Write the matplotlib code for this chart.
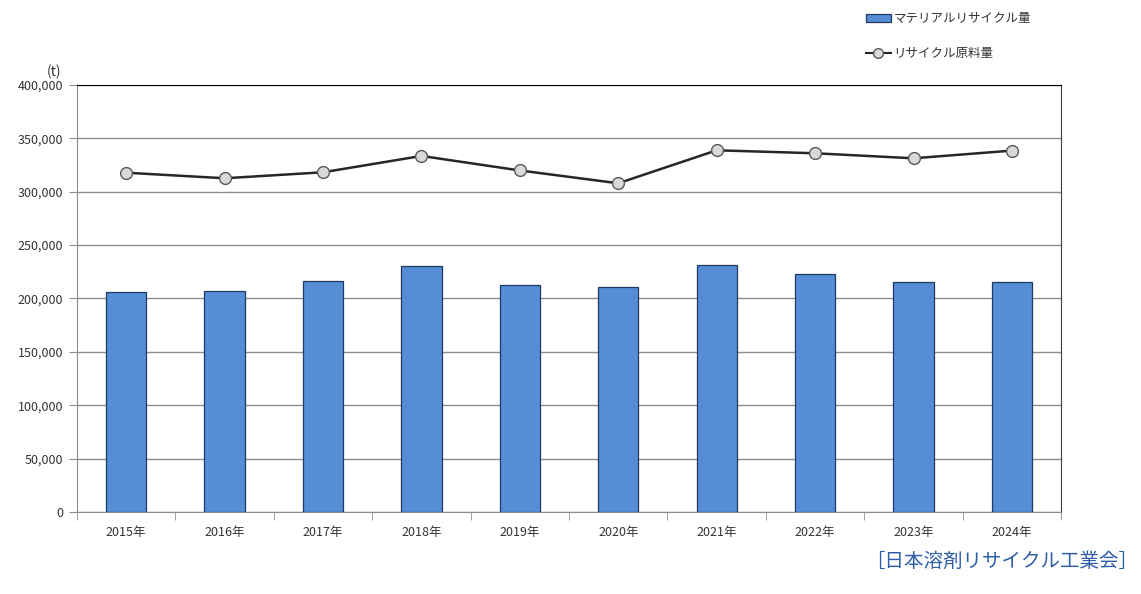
import numpy as np
import matplotlib.pyplot as plt
from matplotlib.lines import Line2D
from matplotlib.patches import Patch

plt.rcParams['font.family'] = ['Noto Sans CJK JP', 'DejaVu Sans']

years = ["2015年", "2016年", "2017年", "2018年", "2019年",
         "2020年", "2021年", "2022年", "2023年", "2024年"]
material_recycle = [206000, 207000, 216500, 230500, 212500,
                    210800, 231500, 223000, 215500, 215500]
recycle_raw = [317800, 312600, 318200, 333500, 319900,
               307900, 338800, 336000, 331300, 338500]

fig = plt.figure(figsize=(11.41, 5.94), dpi=100)
ax = fig.add_axes([0.0675, 0.138, 0.8625, 0.719])

x = np.arange(len(years))
ax.bar(x, material_recycle, width=0.41, color="#558ed5",
       edgecolor="#1f3864", linewidth=0.9, zorder=3)
ax.plot(x, recycle_raw, color="#262626", linewidth=1.8, marker="o",
        markersize=8.5, markerfacecolor="#d9d9d9", markeredgecolor="#595959",
        markeredgewidth=1.0, zorder=4)

ax.set_xlim(-0.5, len(years) - 0.5)
ax.set_ylim(0, 400000)
ax.set_yticks(np.arange(0, 400001, 50000))
ax.set_yticklabels([f"{v:,}" for v in range(0, 400001, 50000)], fontsize=9,
                   color="#333333")
ax.yaxis.grid(True, color="#8c8c8c", linewidth=1.0, zorder=0)

ax.set_xticks(x)
ax.set_xticklabels(years, fontsize=9, color="#333333")
ax.tick_params(axis="x", length=0, pad=10)
ax.set_xticks(np.arange(-0.5, len(years), 1), minor=True)
ax.tick_params(axis="x", which="minor", length=6, color="#8c8c8c")
ax.tick_params(axis="y", length=6, color="#8c8c8c", pad=4)

for s in ["left", "bottom"]:
    ax.spines[s].set_color("#8c8c8c")
ax.spines["top"].set_color("#000000")
ax.spines["right"].set_color("#404040")

fig.text(0.041, 0.872, "(t)", fontsize=10, color="#333333")

handles = [Patch(facecolor="#558ed5", edgecolor="#1f3864", linewidth=0.9),
           Line2D([], [], color="#262626", linewidth=1.5, marker="o",
                  markersize=7, markerfacecolor="#d9d9d9",
                  markeredgecolor="#595959")]
fig.legend(handles, ["マテリアルリサイクル量", "リサイクル原料量"],
           loc="upper left", bbox_to_anchor=(0.749, 0.998), frameon=False,
           fontsize=9, labelspacing=1.75, handlelength=2.0, handletextpad=0.2,
           labelcolor="#333333")

fig.text(0.758, 0.045, "［日本溶剤リサイクル工業会］", fontsize=14,
         color="#2e5ea8")

fig.savefig("out.png", dpi=100)
